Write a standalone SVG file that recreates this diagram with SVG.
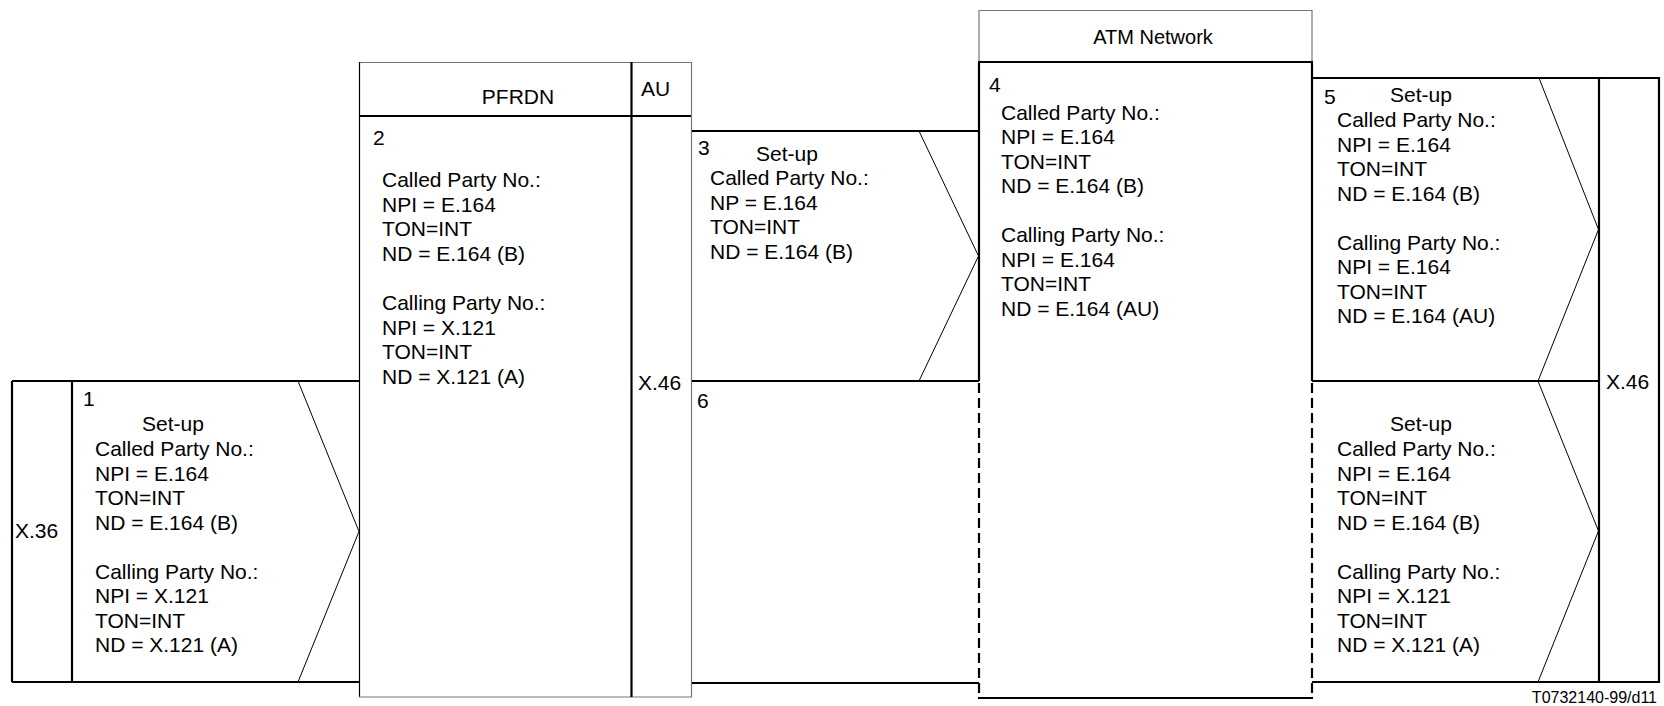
<svg xmlns="http://www.w3.org/2000/svg" width="1664" height="706" viewBox="0 0 1664 706">
<style>
  text { font-family: "Liberation Sans", Arial, sans-serif; font-size: 21px; fill: #000; }
  .thick { stroke: #000; stroke-width: 2.2; fill: none; }
  .thin { stroke: #000; stroke-width: 1.2; fill: none; }
  .gray { stroke: #777; stroke-width: 1.2; fill: none; }
  .dash { stroke: #000; stroke-width: 2.2; fill: none; stroke-dasharray: 10 5; }
  .chev { stroke: #000; stroke-width: 1; fill: none; }
  .small { font-size: 16px; }
</style>
<rect x="0" y="0" width="1664" height="706" fill="#fff"/>

<g id="x36">
  <path class="thick" d="M12 381 H359 M12 682 H359 M12 381 V682 M72 381 V682"/>
  <text x="15" y="538">X.36</text>
</g>

<g id="msg1">
  <text x="83" y="406">1</text>
  <text x="142" y="431">Set-up</text>
  <text x="95" y="456">Called Party No.:</text>
  <text x="95" y="480.5">NPI = E.164</text>
  <text x="95" y="505">TON=INT</text>
  <text x="95" y="529.5">ND = E.164 (B)</text>
  <text x="95" y="578.5">Calling Party No.:</text>
  <text x="95" y="603">NPI = X.121</text>
  <text x="95" y="627.5">TON=INT</text>
  <text x="95" y="652">ND = X.121 (A)</text>
</g>

<g id="pfrdn">
  <path class="gray" d="M360 62.5 H631"/>
  <path class="thin" d="M359.5 62 V697"/>
  <path class="gray" d="M359 697 H631"/>
  <path class="thick" d="M359 116 H692"/>
  <text x="518" y="104" text-anchor="middle">PFRDN</text>
  <text x="373" y="145">2</text>
  <text x="382" y="187">Called Party No.:</text>
  <text x="382" y="211.5">NPI = E.164</text>
  <text x="382" y="236">TON=INT</text>
  <text x="382" y="260.5">ND = E.164 (B)</text>
  <text x="382" y="310">Calling Party No.:</text>
  <text x="382" y="334.5">NPI = X.121</text>
  <text x="382" y="359">TON=INT</text>
  <text x="382" y="383.5">ND = X.121 (A)</text>
</g>

<g id="au">
  <path class="gray" d="M631 62.5 H691.5 V697 H631"/>
  <path class="thick" d="M631.5 62 V697"/>
  <text x="641" y="96">AU</text>
  <text x="638" y="390">X.46</text>
</g>

<g id="msg3">
  <path class="thick" d="M692 131 H979 M692 381 H979"/>
  <text x="698" y="155">3</text>
  <text x="756" y="161">Set-up</text>
  <text x="710" y="185">Called Party No.:</text>
  <text x="710" y="209.5">NP = E.164</text>
  <text x="710" y="234">TON=INT</text>
  <text x="710" y="258.5">ND = E.164 (B)</text>
</g>

<g id="msg6">
  <path class="thick" d="M692 683 H979"/>
  <text x="697" y="408">6</text>
</g>

<g id="atm">
  <path class="gray" d="M979 62 V10.5 H1312 V62"/>
  <path class="thick" d="M978 62 H1313 M979 62 V381 M1312 62 V381"/>
  <path class="dash" d="M979 383 V697.5 M1312 383 V697.5"/>
  <path class="thick" d="M978 698 H1313"/>
  <text x="1153" y="44" text-anchor="middle" style="font-size:20px">ATM Network</text>
  <text x="989" y="92">4</text>
  <text x="1001" y="119.5">Called Party No.:</text>
  <text x="1001" y="144">NPI = E.164</text>
  <text x="1001" y="168.5">TON=INT</text>
  <text x="1001" y="193">ND = E.164 (B)</text>
  <text x="1001" y="242">Calling Party No.:</text>
  <text x="1001" y="266.5">NPI = E.164</text>
  <text x="1001" y="291">TON=INT</text>
  <text x="1001" y="315.5">ND = E.164 (AU)</text>
</g>

<g id="msg5">
  <path class="thick" d="M1312 78 H1599 M1312 381 H1599"/>
  <text x="1324" y="104">5</text>
  <text x="1390" y="102">Set-up</text>
  <text x="1337" y="127">Called Party No.:</text>
  <text x="1337" y="151.5">NPI = E.164</text>
  <text x="1337" y="176">TON=INT</text>
  <text x="1337" y="200.5">ND = E.164 (B)</text>
  <text x="1337" y="249.5">Calling Party No.:</text>
  <text x="1337" y="274">NPI = E.164</text>
  <text x="1337" y="298.5">TON=INT</text>
  <text x="1337" y="323">ND = E.164 (AU)</text>
</g>

<g id="msg7">
  <path class="thick" d="M1312 682 H1599"/>
  <text x="1390" y="431">Set-up</text>
  <text x="1337" y="456">Called Party No.:</text>
  <text x="1337" y="480.5">NPI = E.164</text>
  <text x="1337" y="505">TON=INT</text>
  <text x="1337" y="529.5">ND = E.164 (B)</text>
  <text x="1337" y="578.5">Calling Party No.:</text>
  <text x="1337" y="603">NPI = X.121</text>
  <text x="1337" y="627.5">TON=INT</text>
  <text x="1337" y="652">ND = X.121 (A)</text>
</g>

<g id="x46-right">
  <path class="thick" d="M1599 78 H1659 V682 H1599 Z"/>
  <text x="1606" y="389">X.46</text>
</g>

<g id="connectors">
  <polyline class="chev" points="298,381 359,531.5 298,682"/>
  <polyline class="chev" points="919,131 978.5,256 919,381"/>
  <polyline class="chev" points="1539,78 1598.5,229.5 1538,381"/>
  <polyline class="chev" points="1538,381 1598.5,531 1538,682"/>
</g>

<text class="small" x="1657" y="703" text-anchor="end">T0732140-99/d11</text>
</svg>
